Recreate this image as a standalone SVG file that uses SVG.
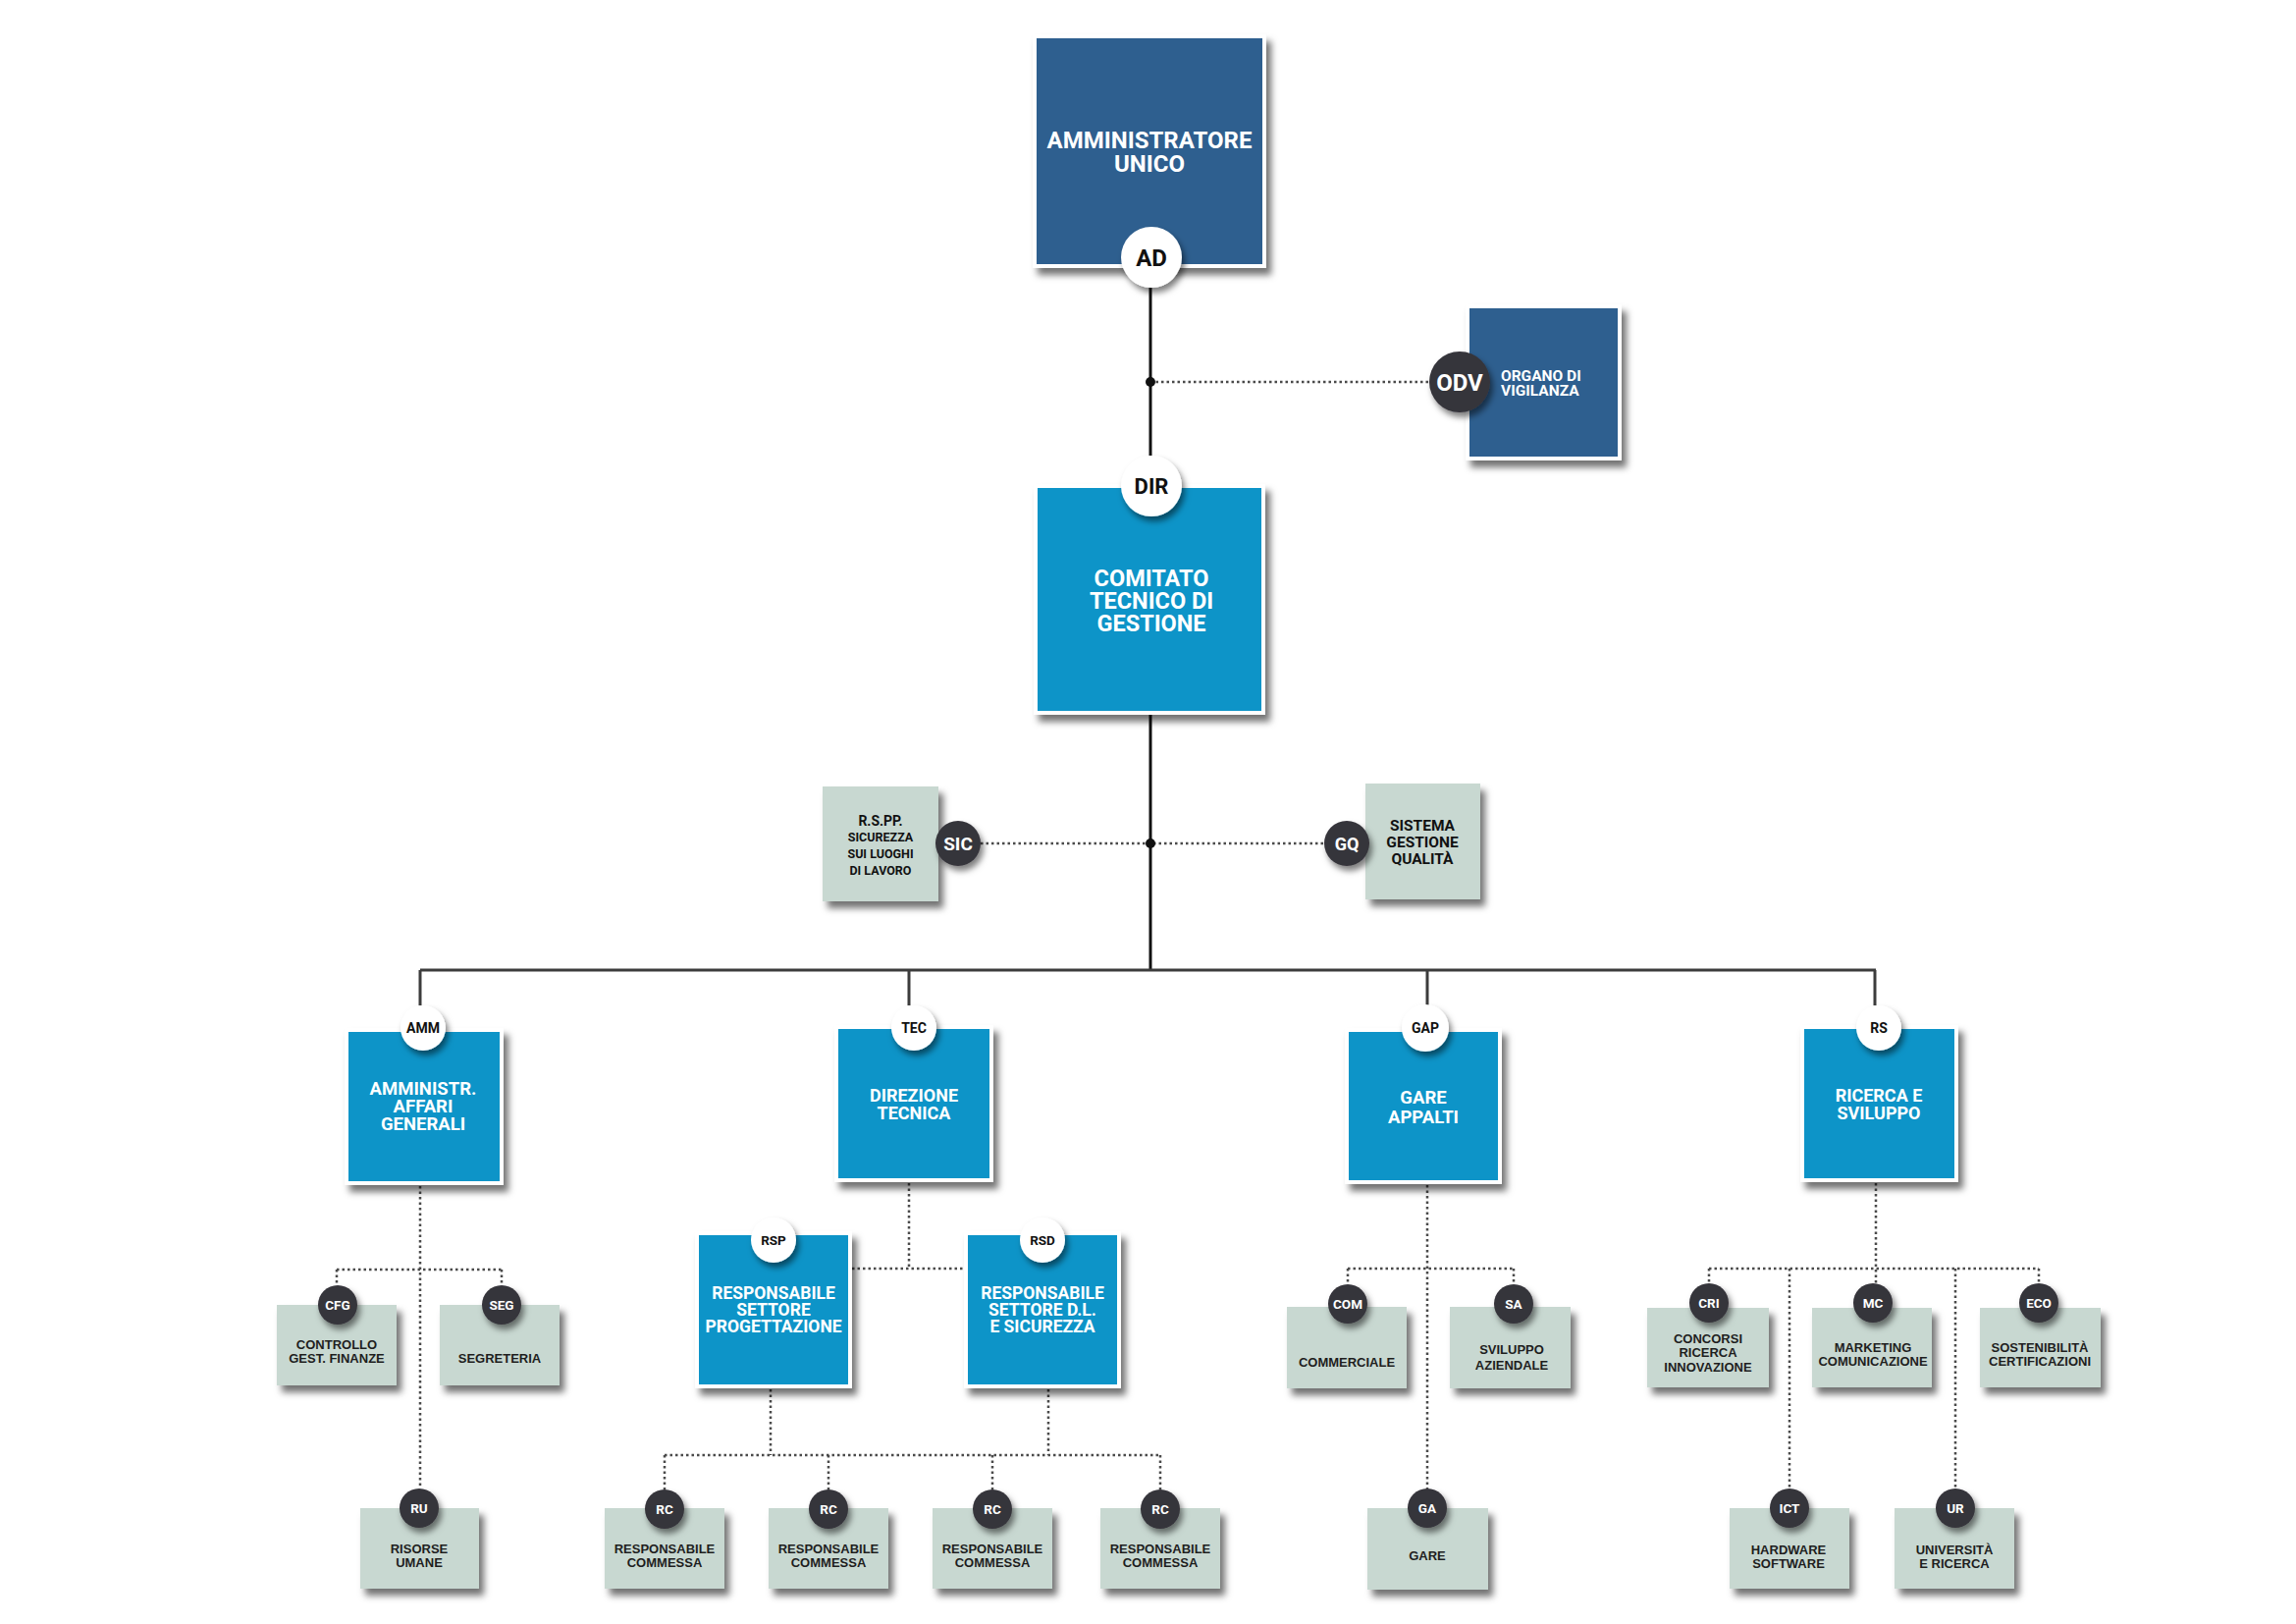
<svg xmlns="http://www.w3.org/2000/svg" width="2339" height="1654" viewBox="0 0 2339 1654">
<defs>
<filter id="sh" x="-20%" y="-20%" width="150%" height="150%">
<feDropShadow dx="5" dy="7" stdDeviation="3.5" flood-color="#000" flood-opacity="0.55"/>
</filter>
<filter id="csh" x="-40%" y="-40%" width="200%" height="200%">
<feDropShadow dx="3" dy="5" stdDeviation="3" flood-color="#000" flood-opacity="0.5"/>
</filter>
<style>
.dk{fill:#2e5f8f;stroke:#fff;stroke-width:4;filter:url(#sh)}
.bl{fill:#0894c8;stroke:#fff;stroke-width:4;filter:url(#sh)}
.gr{fill:#c8d8d1;filter:url(#sh)}
.wc{fill:#fff;filter:url(#csh)}
.dc{fill:#36343b;filter:url(#csh)}
text{font-family:Roboto,"Liberation Sans",sans-serif;font-weight:700;text-anchor:middle}
.wt{fill:#fff}
.bt{fill:#111}
.gt{fill:#1e1e1e;font-family:"Liberation Sans",Arial,sans-serif;font-size:13px}
.solid{stroke:#111;stroke-width:3;fill:none}
.bar{stroke:#3c3c3c;stroke-width:3;fill:none}
.dot{stroke:#4a4a4a;stroke-width:2.5;stroke-dasharray:2.5 3;fill:none}
</style>
</defs>
<rect width="2339" height="1654" fill="#fff"/>

<g id="connectors">
<path class="solid" d="M1172 293V464M1172 726V988"/>
<path class="bar" d="M428 988H1911M428 988V1024M926 988V1024M1454 988V1024M1910 988V1024"/>
<path class="dot" d="M1172 389H1456M999 859H1349"/>
<circle cx="1172" cy="389" r="5" fill="#111"/>
<circle cx="1172" cy="859" r="5" fill="#111"/>
<path class="dot" d="M428 1208V1516M343 1293H511M343 1293V1309M511 1293V1309"/>
<path class="dot" d="M926 1205V1292M868 1292H984"/>
<path class="dot" d="M785 1415V1482M1068 1415V1482M677 1482H1182M677 1482V1518M844 1482V1518M1011 1482V1518M1182 1482V1518"/>
<path class="dot" d="M1454 1207V1516M1373 1292H1542M1373 1292V1308M1542 1292V1308"/>
<path class="dot" d="M1911 1205V1307M1741 1292H2077M1741 1292V1307M2077 1292V1307M1823 1292V1516M1992 1292V1516"/>
</g>

<g id="AD">
<rect class="dk" x="1054" y="37" width="234" height="234"/>
<text class="wt" x="1171" y="151" font-size="24">AMMINISTRATORE</text>
<text class="wt" x="1171" y="175" font-size="24">UNICO</text>
<circle class="wc" cx="1173" cy="262" r="31"/>
<text class="bt" x="1173" y="270.5" font-size="24">AD</text>
</g>

<g id="ODV">
<rect class="dk" x="1495" y="312" width="155" height="155"/>
<text class="wt" x="1529" y="388" font-size="15.5" style="text-anchor:start">ORGANO DI</text>
<text class="wt" x="1529" y="403" font-size="15.5" style="text-anchor:start">VIGILANZA</text>
<circle class="dc" cx="1487" cy="389" r="31"/>
<text class="wt" x="1487" y="397.5" font-size="24">ODV</text>
</g>

<g id="DIR">
<rect class="bl" x="1055" y="495" width="232" height="231"/>
<text class="wt" x="1173" y="597" font-size="23.5">COMITATO</text>
<text class="wt" x="1173" y="620" font-size="23.5">TECNICO DI</text>
<text class="wt" x="1173" y="643" font-size="23.5">GESTIONE</text>
<circle class="wc" cx="1173" cy="495" r="31"/>
<text class="bt" x="1173" y="503" font-size="22">DIR</text>
</g>

<g id="SIC">
<rect class="gr" x="838" y="801" width="118" height="117"/>
<text class="bt" x="897" y="841" font-size="14">R.S.PP.</text>
<text class="bt" x="897" y="857" font-size="12.5">SICUREZZA</text>
<text class="bt" x="897" y="874" font-size="12.5">SUI LUOGHI</text>
<text class="bt" x="897" y="891" font-size="12.5">DI LAVORO</text>
<circle class="dc" cx="976" cy="859" r="23"/>
<text class="wt" x="976" y="866" font-size="19">SIC</text>
</g>

<g id="GQ">
<rect class="gr" x="1391" y="798" width="117" height="118"/>
<text class="bt" x="1449" y="846" font-size="15.5">SISTEMA</text>
<text class="bt" x="1449" y="863" font-size="15.5">GESTIONE</text>
<text class="bt" x="1449" y="880" font-size="15.5">QUALITÀ</text>
<circle class="dc" cx="1372" cy="859" r="23"/>
<text class="wt" x="1372" y="865.5" font-size="18">GQ</text>
</g>

<g id="AMM">
<rect class="bl" x="353" y="1049" width="158" height="156"/>
<text class="wt" x="431" y="1115" font-size="18.5">AMMINISTR.</text>
<text class="wt" x="431" y="1133" font-size="18.5">AFFARI</text>
<text class="wt" x="431" y="1151" font-size="18.5">GENERALI</text>
<circle class="wc" cx="431" cy="1047" r="23"/>
<text class="bt" x="431" y="1052" font-size="14">AMM</text>
</g>

<g id="TEC">
<rect class="bl" x="852" y="1046" width="158" height="156"/>
<text class="wt" x="931" y="1122" font-size="18">DIREZIONE</text>
<text class="wt" x="931" y="1140" font-size="18">TECNICA</text>
<circle class="wc" cx="931" cy="1047" r="23"/>
<text class="bt" x="931" y="1052" font-size="14">TEC</text>
</g>

<g id="GAP">
<rect class="bl" x="1372" y="1049" width="156" height="155"/>
<text class="wt" x="1450" y="1124" font-size="18.5">GARE</text>
<text class="wt" x="1450" y="1144" font-size="18.5">APPALTI</text>
<circle class="wc" cx="1452" cy="1047" r="24"/>
<text class="bt" x="1452" y="1052" font-size="14">GAP</text>
</g>

<g id="RS">
<rect class="bl" x="1836" y="1046" width="157" height="156"/>
<text class="wt" x="1914" y="1122" font-size="18">RICERCA E</text>
<text class="wt" x="1914" y="1140" font-size="18">SVILUPPO</text>
<circle class="wc" cx="1914" cy="1047" r="23"/>
<text class="bt" x="1914" y="1052" font-size="14">RS</text>
</g>

<g id="RSP">
<rect class="bl" x="710" y="1256" width="156" height="156"/>
<text class="wt" x="788" y="1323" font-size="17.5">RESPONSABILE</text>
<text class="wt" x="788" y="1340" font-size="17.5">SETTORE</text>
<text class="wt" x="788" y="1357" font-size="17.5">PROGETTAZIONE</text>
<circle class="wc" cx="788" cy="1263" r="23"/>
<text class="bt" x="788" y="1268" font-size="13.5">RSP</text>
</g>

<g id="RSD">
<rect class="bl" x="984" y="1256" width="156" height="156"/>
<text class="wt" x="1062" y="1323" font-size="17.5">RESPONSABILE</text>
<text class="wt" x="1062" y="1340" font-size="17.5">SETTORE D.L.</text>
<text class="wt" x="1062" y="1357" font-size="17.5">E SICUREZZA</text>
<circle class="wc" cx="1062" cy="1263" r="23"/>
<text class="bt" x="1062" y="1268" font-size="13.5">RSD</text>
</g>

<g id="CFG">
<rect class="gr" x="282" y="1329" width="122" height="82"/>
<text class="gt" x="343" y="1374">CONTROLLO</text>
<text class="gt" x="343" y="1388">GEST. FINANZE</text>
<circle class="dc" cx="344" cy="1329" r="20"/>
<text class="wt" x="344" y="1334" font-size="13.5">CFG</text>
</g>

<g id="SEG">
<rect class="gr" x="448" y="1329" width="122" height="82"/>
<text class="gt" x="509" y="1388">SEGRETERIA</text>
<circle class="dc" cx="511" cy="1329" r="20"/>
<text class="wt" x="511" y="1334" font-size="13.5">SEG</text>
</g>

<g id="RU">
<rect class="gr" x="367" y="1536" width="121" height="82"/>
<text class="gt" x="427" y="1582">RISORSE</text>
<text class="gt" x="427" y="1596">UMANE</text>
<circle class="dc" cx="427" cy="1536" r="20"/>
<text class="wt" x="427" y="1541" font-size="13.5">RU</text>
</g>

<g id="RC1">
<rect class="gr" x="616" y="1536" width="122" height="82"/>
<text class="gt" x="677" y="1582">RESPONSABILE</text>
<text class="gt" x="677" y="1596">COMMESSA</text>
<circle class="dc" cx="677" cy="1537" r="20"/>
<text class="wt" x="677" y="1542" font-size="13.5">RC</text>
</g>

<g id="RC2">
<rect class="gr" x="783" y="1536" width="122" height="82"/>
<text class="gt" x="844" y="1582">RESPONSABILE</text>
<text class="gt" x="844" y="1596">COMMESSA</text>
<circle class="dc" cx="844" cy="1537" r="20"/>
<text class="wt" x="844" y="1542" font-size="13.5">RC</text>
</g>

<g id="RC3">
<rect class="gr" x="950" y="1536" width="122" height="82"/>
<text class="gt" x="1011" y="1582">RESPONSABILE</text>
<text class="gt" x="1011" y="1596">COMMESSA</text>
<circle class="dc" cx="1011" cy="1537" r="20"/>
<text class="wt" x="1011" y="1542" font-size="13.5">RC</text>
</g>

<g id="RC4">
<rect class="gr" x="1121" y="1536" width="122" height="82"/>
<text class="gt" x="1182" y="1582">RESPONSABILE</text>
<text class="gt" x="1182" y="1596">COMMESSA</text>
<circle class="dc" cx="1182" cy="1537" r="20"/>
<text class="wt" x="1182" y="1542" font-size="13.5">RC</text>
</g>

<g id="COM">
<rect class="gr" x="1311" y="1331" width="122" height="83"/>
<text class="gt" x="1372" y="1392">COMMERCIALE</text>
<circle class="dc" cx="1373" cy="1328" r="20"/>
<text class="wt" x="1373" y="1333" font-size="13.5">COM</text>
</g>

<g id="SA">
<rect class="gr" x="1477" y="1331" width="123" height="83"/>
<text class="gt" x="1540" y="1379">SVILUPPO</text>
<text class="gt" x="1540" y="1395">AZIENDALE</text>
<circle class="dc" cx="1542" cy="1328" r="20"/>
<text class="wt" x="1542" y="1333" font-size="13.5">SA</text>
</g>

<g id="GA">
<rect class="gr" x="1393" y="1536" width="123" height="83"/>
<text class="gt" x="1454" y="1589">GARE</text>
<circle class="dc" cx="1454" cy="1536" r="20"/>
<text class="wt" x="1454" y="1541" font-size="13.5">GA</text>
</g>

<g id="CRI">
<rect class="gr" x="1678" y="1332" width="124" height="81"/>
<text class="gt" x="1740" y="1368">CONCORSI</text>
<text class="gt" x="1740" y="1382">RICERCA</text>
<text class="gt" x="1740" y="1397">INNOVAZIONE</text>
<circle class="dc" cx="1741" cy="1327" r="20"/>
<text class="wt" x="1741" y="1332" font-size="13.5">CRI</text>
</g>

<g id="MC">
<rect class="gr" x="1846" y="1332" width="122" height="81"/>
<text class="gt" x="1908" y="1377">MARKETING</text>
<text class="gt" x="1908" y="1391">COMUNICAZIONE</text>
<circle class="dc" cx="1908" cy="1327" r="20"/>
<text class="wt" x="1908" y="1332" font-size="13.5">MC</text>
</g>

<g id="ECO">
<rect class="gr" x="2017" y="1332" width="123" height="81"/>
<text class="gt" x="2078" y="1377">SOSTENIBILITÀ</text>
<text class="gt" x="2078" y="1391">CERTIFICAZIONI</text>
<circle class="dc" cx="2077" cy="1327" r="20"/>
<text class="wt" x="2077" y="1332" font-size="13.5">ECO</text>
</g>

<g id="ICT">
<rect class="gr" x="1762" y="1536" width="122" height="82"/>
<text class="gt" x="1822" y="1583">HARDWARE</text>
<text class="gt" x="1822" y="1597">SOFTWARE</text>
<circle class="dc" cx="1823" cy="1536" r="20"/>
<text class="wt" x="1823" y="1541" font-size="13.5">ICT</text>
</g>

<g id="UR">
<rect class="gr" x="1930" y="1536" width="122" height="82"/>
<text class="gt" x="1991" y="1583">UNIVERSITÀ</text>
<text class="gt" x="1991" y="1597">E RICERCA</text>
<circle class="dc" cx="1992" cy="1536" r="20"/>
<text class="wt" x="1992" y="1541" font-size="13.5">UR</text>
</g>
</svg>
